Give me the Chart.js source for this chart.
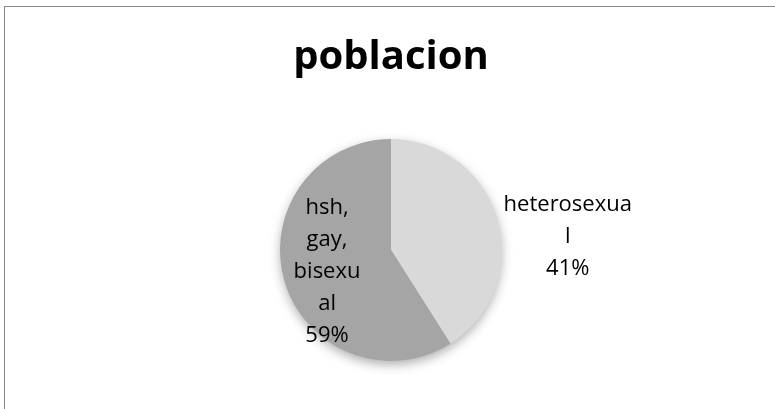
<!DOCTYPE html>
<html>
<head>
<meta charset="utf-8">
<script src="https://cdn.jsdelivr.net/npm/chart.js@4/dist/chart.umd.min.js"></script>
<style>
  html, body { margin: 0; padding: 0; background: #fff; overflow: hidden; }
  #frame { position: absolute; left: 4px; top: 6px; width: 900px; height: 500px; border: 1px solid #878787; }
  #graph { position: absolute; left: 0; top: 0; }
</style>
</head>
<body>
<div id="frame"></div>
<canvas id="graph" width="775" height="409"></canvas>
<script>
const title = 'poblacion';
const categories = ['heterosexual', 'hsh, gay, bisexual'];
const values = [41, 59];
const colors = ['#d9d9d9', '#a5a5a5'];
// where each label sits: outside the slice or inside it, and how wide it may wrap
const labelPlace = ['outside', 'inside'];
const labelWrap = [131, 70];

const labelFont = '22px "Open Sans"';
const lineStep = 32;

// Excel-like wrap: words first, then break long words by character
function wrapText(ctx, text, maxWidth) {
    const lines = [];
    let cur = '';
    text.split(' ').forEach((word) => {
        const test = cur ? cur + ' ' + word : word;
        if (ctx.measureText(test).width <= maxWidth) {
            cur = test;
            return;
        }
        if (cur) lines.push(cur);
        cur = '';
        for (const ch of word) {
            if (cur && ctx.measureText(cur + ch).width > maxWidth) {
                lines.push(cur);
                cur = ch;
            } else {
                cur += ch;
            }
        }
    });
    if (cur) lines.push(cur);
    return lines;
}

const pieShadow = {
    id: 'pieShadow',
    beforeDatasetsDraw(chart) {
        const arc = chart.getDatasetMeta(0).data[0];
        if (!arc) return;
        const ctx = chart.ctx;
        ctx.save();
        ctx.shadowColor = 'rgba(0, 0, 0, 0.35)';
        ctx.shadowBlur = 12;
        ctx.shadowOffsetY = 4;
        ctx.fillStyle = '#a5a5a5';
        ctx.beginPath();
        ctx.arc(arc.x, arc.y, arc.outerRadius - 1, 0, Math.PI * 2);
        ctx.fill();
        ctx.restore();
    }
};

const sliceLabels = {
    id: 'sliceLabels',
    afterDatasetsDraw(chart) {
        const ctx = chart.ctx;
        const data = chart.data.datasets[0].data;
        const total = data.reduce((a, b) => a + b, 0);
        ctx.save();
        ctx.font = labelFont;
        ctx.fillStyle = '#000';
        ctx.textAlign = 'center';
        ctx.textBaseline = 'middle';
        chart.getDatasetMeta(0).data.forEach((arc, i) => {
            const lines = wrapText(ctx, chart.data.labels[i], labelWrap[i]);
            lines.push(Math.round(data[i] / total * 100) + '%');
            const mid = (arc.startAngle + arc.endAngle) / 2;
            let cx, cy;
            if (labelPlace[i] === 'inside') {
                cx = arc.x + Math.cos(mid) * arc.outerRadius * 0.6;
                cy = arc.y + Math.sin(mid) * arc.outerRadius * 0.6 + 3;
            } else {
                const w = Math.max(...lines.map((l) => ctx.measureText(l).width));
                const ex = arc.x + Math.cos(mid) * arc.outerRadius;
                const ey = arc.y + Math.sin(mid) * arc.outerRadius;
                cx = ex + 6 + w / 2;
                cy = ey + 18;
            }
            const top = cy - (lines.length - 1) * lineStep / 2;
            lines.forEach((l, j) => ctx.fillText(l, cx, top + j * lineStep));
        });
        ctx.restore();
    }
};

window.addEventListener('DOMContentLoaded', () => {
    const graph = document.getElementById('graph');
    new Chart(graph, {
        type: 'pie',
        data: {
            labels: categories,
            datasets: [{
                data: values,
                backgroundColor: colors,
                borderWidth: 0
            }]
        },
        options: {
            responsive: false,
            animation: false,
            layout: {padding: {top: 0, bottom: 48, left: 7, right: 0}},
            plugins: {
                legend: {display: false},
                tooltip: {enabled: false},
                title: {
                    display: true,
                    text: title,
                    color: '#000',
                    font: {family: 'Open Sans', size: 40, weight: 'bold'},
                    padding: {top: 34, bottom: 57}
                }
            }
        },
        plugins: [pieShadow, sliceLabels]
    });
});
</script>
</body>
</html>
